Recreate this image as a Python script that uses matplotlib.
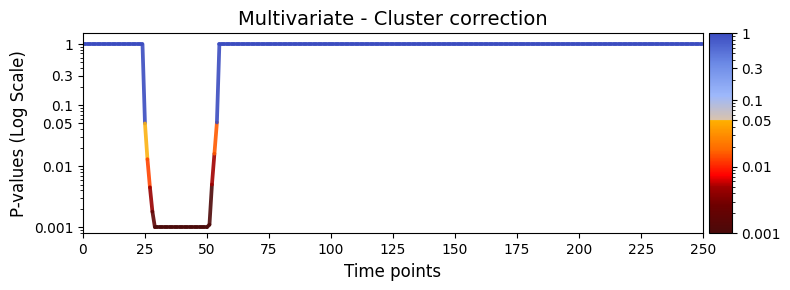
import numpy as np
import matplotlib
matplotlib.use("Agg")
import matplotlib.pyplot as plt
from matplotlib.collections import LineCollection
from matplotlib.colors import LinearSegmentedColormap, LogNorm
from matplotlib.cm import ScalarMappable

# p-values
n_before = 25            # t = 0..24 at p = 1
drop = [0.05, 0.013, 0.0045, 0.0018]
n_floor = 22             # t = 29..50 at p = 0.001
rise = [0.0011, 0.005, 0.016, 0.052]
n_after = 196            # t = 55..250 at p = 1
floor_p = 0.001
alpha_level = 0.05

pvals = np.concatenate([np.ones(n_before), drop, np.full(n_floor, floor_p),
                        rise, np.ones(n_after)])
times = np.arange(len(pvals))

yticks = [1, 0.3, 0.1, 0.05, 0.01, 0.001]
ytick_labels = ["1", "0.3", "0.1", "0.05", "0.01", "0.001"]
xticks = np.arange(0, 251, 25)

# colormap over log10(p) from -3 to 0
f05 = (np.log10(alpha_level) + 3) / 3
cmap = LinearSegmentedColormap.from_list("pmap", [
    (0.0, "#4a0a0a"),
    (0.14, "#6e0000"),
    (0.23, "#a00000"),
    (0.29, "#ff0000"),
    (0.42, "#ff6a00"),
    (f05 - 0.002, "#ffb000"),
    (f05 + 0.002, "#d9c3ad"),
    (0.69, "#9db8fb"),
    (0.85, "#6c8ae6"),
    (1.0, "#3b4cc0"),
])
norm = LogNorm(vmin=0.001, vmax=1)

fig = plt.figure(figsize=(7.9, 2.9), dpi=100)
ax = fig.add_axes([0.105, 0.1955, 0.785, 0.6895])
cax = fig.add_axes([0.898, 0.1955, 0.0284, 0.6895])

# each segment takes the colour of its first point; non-significant -> blue
pts = np.column_stack([times, pvals])
segs = np.stack([pts[:-1], pts[1:]], axis=1)
start = pvals[:-1]
seg_vals = np.where(start > alpha_level, 1.0, start)
lc = LineCollection(segs, colors=cmap(norm(seg_vals)), linewidths=2.7,
                    alpha=0.9, capstyle="round")
ax.add_collection(lc)

ax.set_yscale("log")
ax.set_xlim(0, 250)
ax.set_ylim(10 ** -3.1, 10 ** 0.175)
ax.set_xticks(xticks)
ax.set_yticks(yticks)
ax.set_yticklabels(ytick_labels)
ax.set_title("Multivariate - Cluster correction", fontsize=14)
ax.set_xlabel("Time points", fontsize=12)
ax.set_ylabel("P-values (Log Scale)", fontsize=12)

cb = fig.colorbar(ScalarMappable(norm=norm, cmap=cmap), cax=cax)
cb.set_ticks(yticks)
cb.set_ticklabels(ytick_labels)

fig.savefig("out.png", dpi=100)
